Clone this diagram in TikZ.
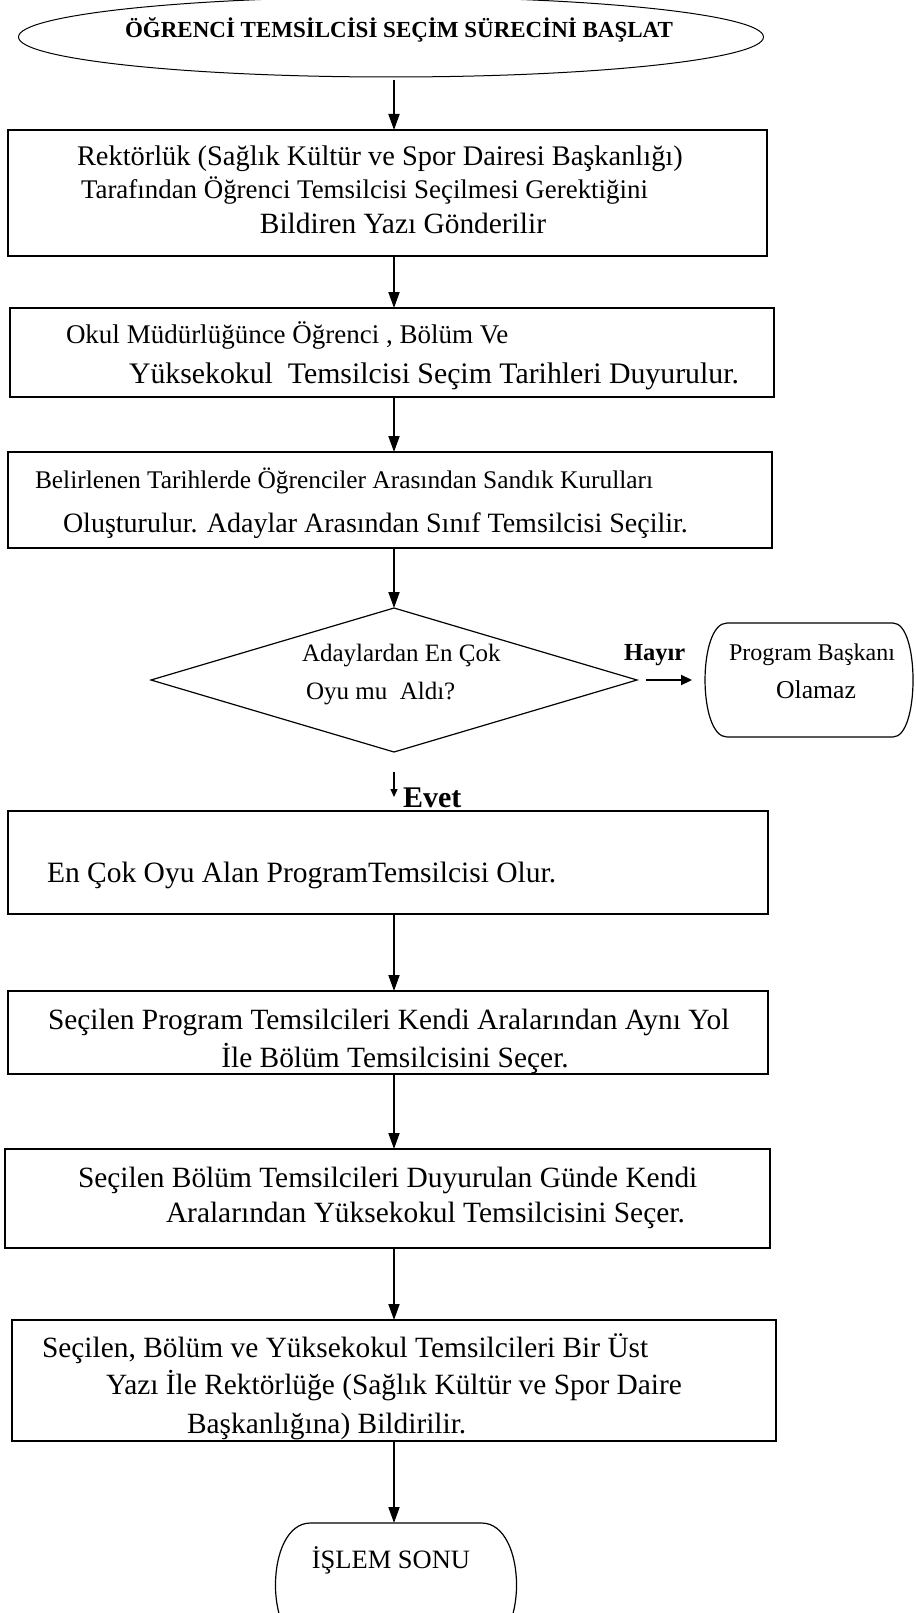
\documentclass[tikz,border=0pt]{standalone}
\usepackage{fontspec}
\setmainfont{Liberation Serif}
\usetikzlibrary{shapes.geometric,arrows.meta}
\newcommand{\setfs}[1]{\fontsize{#1}{#1}\selectfont}

\begin{document}
\begin{tikzpicture}[x=1pt,y=-1pt,
  every node/.style={inner sep=0pt, outer sep=0pt},
  stepbox/.style={draw, line width=1.5pt, rectangle, anchor=north west},
  termframe/.style={rectangle},
  termline/.style={line width=1.2pt},
  lline/.style={anchor=base west},
  cline/.style={anchor=base},
  flow/.style={draw, line width=1.8pt, -{Triangle[length=16pt,width=11pt]}},
]
\useasboundingbox (0,0) rectangle (915,1613);

% vertical axis of the main flow
\coordinate (ax) at (394,0);

% start
\node[draw, ellipse, line width=1pt, minimum width=745pt, minimum height=80pt] (start) at (391,37) {};
\node[cline, font=\setfs{23}\bfseries] (starttxt) at (399,37.5) {ÖĞRENCİ TEMSİLCİSİ SEÇİM SÜRECİNİ BAŞLAT};

% step 1
\node[stepbox, minimum width=759pt, minimum height=126pt] (b1) at (8,130) {};
\node[lline, font=\setfs{28.4}] (b1a) at (77,166) {Rektörlük (Sağlık Kültür ve Spor Dairesi Başkanlığı)};
\node[lline, font=\setfs{26.9}] (b1b) at (81,198.5) {Tarafından Öğrenci Temsilcisi Seçilmesi Gerektiğini};
\node[cline, font=\setfs{29.4}] (b1c) at (403,233.5) {Bildiren Yazı Gönderilir};

% step 2
\node[stepbox, minimum width=764pt, minimum height=89pt] (b2) at (10,308) {};
\node[lline, font=\setfs{27}] (b2a) at (66,343) {Okul Müdürlüğünce Öğrenci , Bölüm Ve};
\node[lline, font=\setfs{29.8}] (b2b) at (129,383) {Yüksekokul\ \ Temsilcisi Seçim Tarihleri Duyurulur.};

% step 3
\node[stepbox, minimum width=764pt, minimum height=96pt] (b3) at (8,452) {};
\node[lline, font=\setfs{25.4}] (b3a) at (35,488.4) {Belirlenen Tarihlerde Öğrenciler Arasından Sandık Kurulları};
\node[lline, font=\setfs{28}] (b3b) at (63,532.2) {Oluşturulur. Adaylar Arasından Sınıf Temsilcisi Seçilir.};

% decision
\node[draw, diamond, line width=1.2pt, minimum width=486pt, minimum height=144pt] (dia) at (394,680) {};
\node[lline, font=\setfs{25}] (diaa) at (302,661.5) {Adaylardan En Çok};
\node[lline, font=\setfs{25}] (diab) at (306,699) {Oyu mu\ \ Aldı?};

% "no" branch: terminal with bulging sides
\node[termframe, minimum width=208pt, minimum height=114pt] (no) at (809,680) {};
\draw[termline] ([xshift=22pt]no.north west) -- ([xshift=-20pt]no.north east)
  .. controls ([xshift=6.7pt]no.north east) and ([xshift=6.7pt]no.south east) .. ([xshift=-20pt]no.south east)
  -- ([xshift=22pt]no.south west)
  .. controls ([xshift=-7.3pt]no.south west) and ([xshift=-7.3pt]no.north west) .. cycle;
\node[cline, font=\setfs{24}] (noa) at (812,660) {Program Başkanı};
\node[cline, font=\setfs{25.7}] (nob) at (816,698.5) {Olamaz};
\node[lline, font=\setfs{24.5}\bfseries] (hayir) at (624,660) {Hayır};
\draw[line width=2.2pt, -{Triangle[length=11pt,width=10pt]}, shorten <=9pt, shorten >=13pt] (dia.east) -- (no.west);

% "yes" branch
\node[lline, font=\setfs{30}\bfseries] (evet) at (403,807) {Evet};

% step 4
\node[stepbox, minimum width=760pt, minimum height=103pt] (b4) at (8,811) {};
\node[lline, font=\setfs{29.5}] (b4a) at (47,882.7) {En Çok Oyu Alan ProgramTemsilcisi Olur.};
\draw[line width=1.2pt, -{Triangle[length=8pt,width=7pt]}, shorten <=20pt, shorten >=14pt] (dia.south) -- (b4.north -| ax);

% step 5
\node[stepbox, minimum width=760pt, minimum height=83pt] (b5) at (8,991) {};
\node[lline, font=\setfs{29.4}] (b5a) at (48,1029.7) {Seçilen Program Temsilcileri Kendi Aralarından Aynı Yol};
\node[cline, font=\setfs{29.4}] (b5b) at (395,1067.7) {İle Bölüm Temsilcisini Seçer.};

% step 6
\node[stepbox, minimum width=765pt, minimum height=99pt] (b6) at (5,1149) {};
\node[lline, font=\setfs{29.4}] (b6a) at (78,1187.5) {Seçilen Bölüm Temsilcileri Duyurulan Günde Kendi};
\node[lline, font=\setfs{29.4}] (b6b) at (166,1222) {Aralarından Yüksekokul Temsilcisini Seçer.};

% step 7
\node[stepbox, minimum width=764pt, minimum height=121pt] (b7) at (12,1320) {};
\node[lline, font=\setfs{29.4}] (b7a) at (42,1357) {Seçilen, Bölüm ve Yüksekokul Temsilcileri Bir Üst};
\node[lline, font=\setfs{29.4}] (b7b) at (106,1394) {Yazı İle Rektörlüğe (Sağlık Kültür ve Spor Daire};
\node[lline, font=\setfs{29.4}] (b7c) at (187,1433) {Başkanlığına) Bildirilir.};

% end terminal, running past the lower edge
\node[termframe, minimum width=241pt, minimum height=124pt] (finish) at (396,1585) {};
\draw[termline] ([xshift=35pt]finish.north west) -- ([xshift=-35pt]finish.north east)
  .. controls ([xshift=11.7pt]finish.north east) and ([xshift=11.7pt]finish.south east) .. ([xshift=-35pt]finish.south east)
  -- ([xshift=35pt]finish.south west)
  .. controls ([xshift=-11.7pt]finish.south west) and ([xshift=-11.7pt]finish.north west) .. cycle;
\node[cline, font=\setfs{26.5}] (finishtxt) at (391,1568) {İŞLEM SONU};

% main flow connectors
\draw[flow, shorten <=3pt] (start.south -| ax) -- (b1.north -| ax);
\draw[flow] (b1.south -| ax) -- (b2.north -| ax);
\draw[flow] (b2.south -| ax) -- (b3.north -| ax);
\draw[flow] (b3.south -| ax) -- (dia.north);
\draw[flow] (b4.south -| ax) -- (b5.north -| ax);
\draw[flow] (b5.south -| ax) -- (b6.north -| ax);
\draw[flow] (b6.south -| ax) -- (b7.north -| ax);
\draw[flow] (b7.south -| ax) -- (finish.north -| ax);
\end{tikzpicture}
\end{document}
